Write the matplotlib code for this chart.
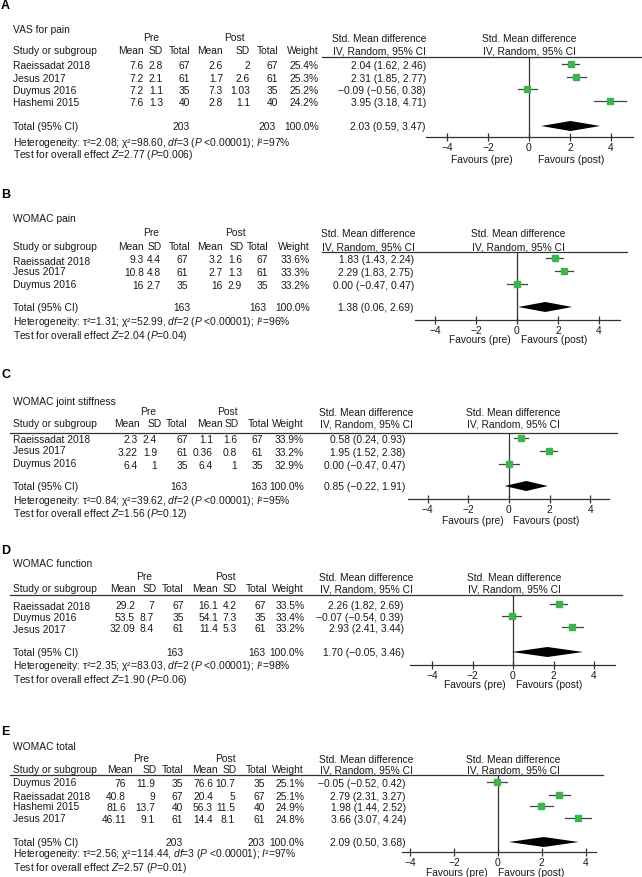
import matplotlib
matplotlib.use("Agg")
import matplotlib.pyplot as plt

plt.rcParams['font.family'] = ['Liberation Sans', 'DejaVu Sans']
plt.rcParams['mathtext.fontset'] = 'custom'
plt.rcParams['mathtext.rm'] = 'Liberation Sans'
plt.rcParams['mathtext.it'] = 'Liberation Sans:italic'
plt.rcParams['mathtext.bf'] = 'Liberation Sans:bold'

# ---------------- data ----------------
# Panel A: VAS for pain
A_title = "VAS for pain"
A_studies = ["Raeissadat 2018", "Jesus 2017", "Duymus 2016", "Hashemi 2015"]
A_pre_mean = [7.6, 7.2, 7.2, 7.6]
A_pre_sd = [2.8, 2.1, 1.1, 1.3]
A_pre_n = [67, 61, 35, 40]
A_post_mean = [2.6, 1.7, 7.3, 2.8]
A_post_sd = [2, 2.6, 1.03, 1.1]
A_post_n = [67, 61, 35, 40]
A_weight = [25.4, 25.3, 25.2, 24.2]
A_smd = [2.04, 2.31, -0.09, 3.95]
A_lo = [1.62, 1.85, -0.56, 3.18]
A_hi = [2.46, 2.77, 0.38, 4.71]
A_pooled = [2.03, 0.59, 3.47]
A_tot = [203, 203]
A_het = ["2.08", "98.60", "3", "97"]
A_z = ["2.77", "0.006"]

# Panel B: WOMAC pain
B_title = "WOMAC pain"
B_studies = ["Raeissadat 2018", "Jesus 2017", "Duymus 2016"]
B_pre_mean = [9.3, 10.8, 16]
B_pre_sd = [4.4, 4.8, 2.7]
B_pre_n = [67, 61, 35]
B_post_mean = [3.2, 2.7, 16]
B_post_sd = [1.6, 1.3, 2.9]
B_post_n = [67, 61, 35]
B_weight = [33.6, 33.3, 33.2]
B_smd = [1.83, 2.29, 0.00]
B_lo = [1.43, 1.83, -0.47]
B_hi = [2.24, 2.75, 0.47]
B_pooled = [1.38, 0.06, 2.69]
B_tot = [163, 163]
B_het = ["1.31", "52.99", "2", "96"]
B_z = ["2.04", "0.04"]

# Panel C: WOMAC joint stiffness
C_title = "WOMAC joint stiffness"
C_studies = ["Raeissadat 2018", "Jesus 2017", "Duymus 2016"]
C_pre_mean = [2.3, 3.22, 6.4]
C_pre_sd = [2.4, 1.9, 1]
C_pre_n = [67, 61, 35]
C_post_mean = [1.1, 0.36, 6.4]
C_post_sd = [1.6, 0.8, 1]
C_post_n = [67, 61, 35]
C_weight = [33.9, 33.2, 32.9]
C_smd = [0.58, 1.95, 0.00]
C_lo = [0.24, 1.52, -0.47]
C_hi = [0.93, 2.38, 0.47]
C_pooled = [0.85, -0.22, 1.91]
C_tot = [163, 163]
C_het = ["0.84", "39.62", "2", "95"]
C_z = ["1.56", "0.12"]

# Panel D: WOMAC function
D_title = "WOMAC function"
D_studies = ["Raeissadat 2018", "Duymus 2016", "Jesus 2017"]
D_pre_mean = [29.2, 53.5, 32.09]
D_pre_sd = [7, 8.7, 8.4]
D_pre_n = [67, 35, 61]
D_post_mean = [16.1, 54.1, 11.4]
D_post_sd = [4.2, 7.3, 5.3]
D_post_n = [67, 35, 61]
D_weight = [33.5, 33.4, 33.2]
D_smd = [2.26, -0.07, 2.93]
D_lo = [1.82, -0.54, 2.41]
D_hi = [2.69, 0.39, 3.44]
D_pooled = [1.70, -0.05, 3.46]
D_tot = [163, 163]
D_het = ["2.35", "83.03", "2", "98"]
D_z = ["1.90", "0.06"]

# Panel E: WOMAC total
E_title = "WOMAC total"
E_studies = ["Duymus 2016", "Raeissadat 2018", "Hashemi 2015", "Jesus 2017"]
E_pre_mean = [76, 40.8, 81.6, 46.11]
E_pre_sd = [11.9, 9, 13.7, 9.1]
E_pre_n = [35, 67, 40, 61]
E_post_mean = [76.6, 20.4, 56.3, 14.4]
E_post_sd = [10.7, 5, 11.5, 8.1]
E_post_n = [35, 67, 40, 61]
E_weight = [25.1, 25.1, 24.9, 24.8]
E_smd = [-0.05, 2.79, 1.98, 3.66]
E_lo = [-0.52, 2.31, 1.44, 3.07]
E_hi = [0.42, 3.27, 2.52, 4.24]
E_pooled = [2.09, 0.50, 3.68]
E_tot = [203, 203]
E_het = ["2.56", "114.44", "3", "97"]
E_z = ["2.57", "0.01"]

x_ticks = [-4, -2, 0, 2, 4]

panels = {
    "A": dict(title=A_title, studies=A_studies, pm=A_pre_mean, psd=A_pre_sd, pn=A_pre_n,
              qm=A_post_mean, qsd=A_post_sd, qn=A_post_n, w=A_weight, smd=A_smd, lo=A_lo,
              hi=A_hi, pooled=A_pooled, tot=A_tot, het=A_het, z=A_z),
    "B": dict(title=B_title, studies=B_studies, pm=B_pre_mean, psd=B_pre_sd, pn=B_pre_n,
              qm=B_post_mean, qsd=B_post_sd, qn=B_post_n, w=B_weight, smd=B_smd, lo=B_lo,
              hi=B_hi, pooled=B_pooled, tot=B_tot, het=B_het, z=B_z),
    "C": dict(title=C_title, studies=C_studies, pm=C_pre_mean, psd=C_pre_sd, pn=C_pre_n,
              qm=C_post_mean, qsd=C_post_sd, qn=C_post_n, w=C_weight, smd=C_smd, lo=C_lo,
              hi=C_hi, pooled=C_pooled, tot=C_tot, het=C_het, z=C_z),
    "D": dict(title=D_title, studies=D_studies, pm=D_pre_mean, psd=D_pre_sd, pn=D_pre_n,
              qm=D_post_mean, qsd=D_post_sd, qn=D_post_n, w=D_weight, smd=D_smd, lo=D_lo,
              hi=D_hi, pooled=D_pooled, tot=D_tot, het=D_het, z=D_z),
    "E": dict(title=E_title, studies=E_studies, pm=E_pre_mean, psd=E_pre_sd, pn=E_pre_n,
              qm=E_post_mean, qsd=E_post_sd, qn=E_post_n, w=E_weight, smd=E_smd, lo=E_lo,
              hi=E_hi, pooled=E_pooled, tot=E_tot, het=E_het, z=E_z),
}

# ---------------- layout (pixels) ----------------
# cols / hcols: right edges of pre mean, pre sd, pre total, post mean, post sd, post total, weight
layout = {
    "A": dict(letter=6, title=30, grp=38, hdr=51, line=58, line_x0=322, line_x1=641,
              names=[66, 79, 91, 103], rows=[66, 79, 91, 103], total=127, het=143, test=155,
              cols=[144, 163, 190, 223, 250, 278, 319],
              hcols=[144, 163, 190, 223, 250, 278, 319], pre_c=151, post_c=234,
              smd_hc=379, smd_r=426, h2=529, ax=(426, 633), axis_y=138, zero=529, unit=20.5,
              fav_y=160, fav_pre=513, fav_post=538),
    "B": dict(letter=195, title=219, grp=233, hdr=247, line=253, line_x0=322, line_x1=627,
              names=[262, 272, 285], rows=[260, 273, 286], total=308, het=323, test=336,
              cols=[144, 161, 188, 223, 242, 268, 310],
              hcols=[144, 162, 190, 223, 244, 268, 310], pre_c=151, post_c=235,
              smd_hc=368, smd_r=414, h2=518, ax=(415, 620), axis_y=321, zero=517, unit=20.5,
              fav_y=340, fav_pre=511, fav_post=521),
    "C": dict(letter=375, title=402, grp=412, hdr=424, line=434, line_x0=10, line_x1=617,
              names=[440, 451, 464], rows=[440, 453, 466], total=487, het=502, test=514,
              cols=[138, 157, 188, 213, 237, 263, 304],
              hcols=[140, 162, 187, 223, 239, 269, 304], pre_c=148, post_c=227,
              smd_hc=366, smd_r=405, h2=513, ax=(408, 609), axis_y=500, zero=509, unit=20.3,
              fav_y=521, fav_pre=504, fav_post=513),
    "D": dict(letter=551, title=564, grp=577, hdr=589, line=596, line_x0=10, line_x1=622,
              names=[607, 618, 630], rows=[606, 618, 629], total=653, het=667, test=680,
              cols=[135, 154, 184, 218, 237, 266, 305],
              hcols=[136, 157, 183, 218, 237, 267, 304], pre_c=144, post_c=225,
              smd_hc=366, smd_r=404, h2=514, ax=(410, 615), axis_y=666, zero=513, unit=20.25,
              fav_y=685, fav_pre=506, fav_post=516),
    "E": dict(letter=732, title=747, grp=759, hdr=770, line=776, line_x0=10, line_x1=603,
              names=[783, 797, 807, 819], rows=[784, 797, 808, 820], total=843, het=855,
              test=868, cols=[126, 155, 183, 213, 235, 265, 304],
              hcols=[133, 157, 183, 218, 237, 267, 304], pre_c=141, post_c=225,
              smd_hc=366, smd_r=406, h2=513, ax=(402, 596), axis_y=853, zero=498, unit=21.9,
              fav_y=873, fav_pre=488, fav_post=498),
}

W, H = 642, 878
FS = 7.4
TXT = "#1a1a1a"
GREEN = "#3cb54a"

fig = plt.figure(figsize=(W / 100, H / 100), dpi=100)
bg = fig.add_axes([0, 0, 1, 1])
bg.set_xlim(0, W)
bg.set_ylim(H, 0)
bg.axis("off")


def fmt(v):
    return f"{v:g}"


def fci(v):
    return f"{v:.2f}".replace("-", "\u2212")


def t(x, y, s, ha="left", **kw):
    bg.text(x, y, s, ha=ha, va="center", fontsize=FS, color=TXT, **kw)


for key, d in panels.items():
    L = layout[key]
    bg.text(1, L["letter"], key, ha="left", va="center", fontsize=9, fontweight="bold", color="black")
    t(13, L["title"], d["title"])
    t(L["pre_c"], L["grp"], "Pre", ha="center")
    t(L["post_c"], L["grp"], "Post", ha="center")
    t(13, L["hdr"], "Study or subgroup")
    c = L["cols"]
    hc = L["hcols"]
    for cx, lab in zip(hc, ["Mean", "SD", "Total", "Mean", "SD", "Total", "Weight"]):
        t(cx, L["hdr"], lab, ha="right")
    t(L["smd_hc"], L["grp"] + 1, "Std. Mean difference", ha="center")
    t(L["smd_hc"], L["hdr"] + 1, "IV, Random, 95% CI", ha="center")
    t(L["h2"], L["grp"] + 1, "Std. Mean difference", ha="center")
    t(L["h2"], L["hdr"] + 1, "IV, Random, 95% CI", ha="center")
    bg.plot([L["line_x0"], L["line_x1"]], [L["line"], L["line"]], color="#333333", lw=0.9)

    for i, name in enumerate(d["studies"]):
        y = L["rows"][i]
        t(13, L["names"][i], name)
        vals = [fmt(d["pm"][i]), fmt(d["psd"][i]), str(d["pn"][i]), fmt(d["qm"][i]),
                fmt(d["qsd"][i]), str(d["qn"][i]), f"{d['w'][i]:.1f}%"]
        for cx, v in zip(c, vals):
            t(cx, y, v, ha="right")
        t(L["smd_r"], y, f"{fci(d['smd'][i])} ({fci(d['lo'][i])}, {fci(d['hi'][i])})", ha="right")

    t(13, L["total"], "Total (95% CI)")
    t(hc[2], L["total"], str(d["tot"][0]), ha="right")
    t(hc[5] - 2, L["total"], str(d["tot"][1]), ha="right")
    t(hc[6], L["total"], "100.0%", ha="right")
    p = d["pooled"]
    t(L["smd_r"], L["total"], f"{fci(p[0])} ({fci(p[1])}, {fci(p[2])})", ha="right")
    h = d["het"]
    t(13, L["het"] - 0.5, "Heterogeneity: \u03c4\u00b2=" + h[0] + "; \u03c7\u00b2=" + h[1] + r", $df$=" + h[2]
      + r" ($P$ <0.00001); $I$" + "\u00b2=" + h[3] + "%")
    t(13, L["test"] + 0.5, r"Test for overall effect $Z$=" + d["z"][0] + r" ($P$=" + d["z"][1] + ")")

    # forest plot axes
    x0, x1 = L["ax"]
    axis_y = L["axis_y"]
    ax = fig.add_axes([x0 / W, 1 - axis_y / H, (x1 - x0) / W, (axis_y - L["line"]) / H])
    ax.set_xlim((x0 - L["zero"]) / L["unit"], (x1 - L["zero"]) / L["unit"])
    ax.set_ylim(axis_y, L["line"])
    ax.patch.set_alpha(0)
    for s in ["top", "right", "left"]:
        ax.spines[s].set_visible(False)
    ax.spines["bottom"].set_color("#333333")
    ax.spines["bottom"].set_linewidth(0.9)
    ax.set_yticks([])
    ax.set_xticks(x_ticks)
    ax.set_xticklabels([str(v).replace("-", "\u2212") for v in x_ticks])
    ax.tick_params(axis="x", direction="inout", length=6, width=0.9, pad=0.3,
                   labelsize=FS, colors="#333333", labelcolor=TXT)
    ax.axvline(0, color="#333333", lw=0.9)
    for i in range(len(d["studies"])):
        y = L["rows"][i] - 1
        ax.plot([d["lo"][i], d["hi"][i]], [y, y], color="#444444", lw=0.9, zorder=2)
        ax.plot([d["smd"][i]], [y], marker="s", ms=4.0, color=GREEN, mec=GREEN, zorder=3)
    ty = L["total"]
    ax.fill([p[1], p[0], p[2], p[0]], [ty, ty - 5, ty, ty + 5], color="black", lw=0, zorder=3)

    bg.text(L["fav_pre"], L["fav_y"], "Favours (pre)", ha="right", va="center", fontsize=FS, color=TXT)
    bg.text(L["fav_post"], L["fav_y"], "Favours (post)", ha="left", va="center", fontsize=FS, color=TXT)

fig.savefig("out.png", dpi=100)
